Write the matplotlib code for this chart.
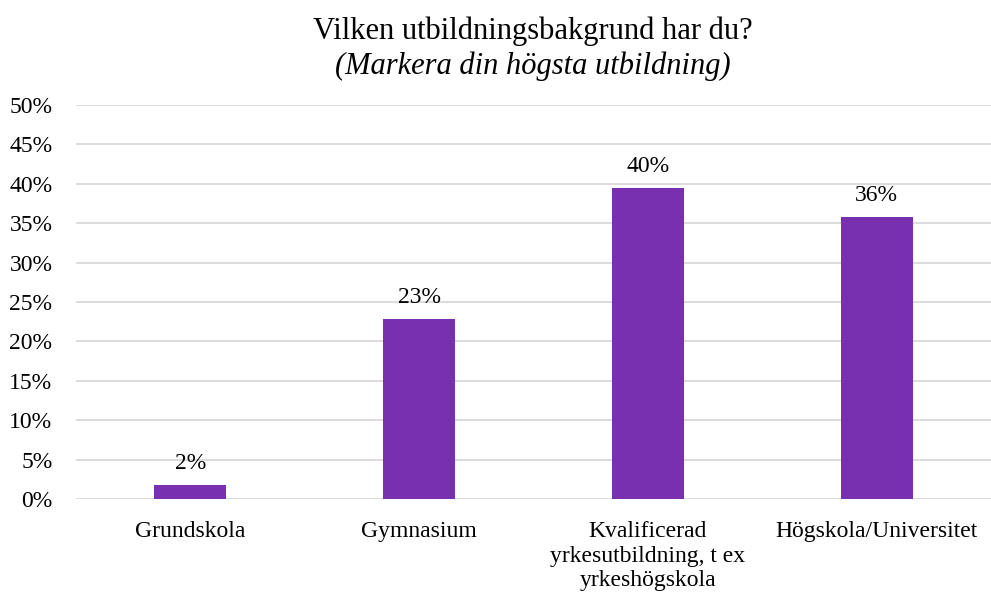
import matplotlib
matplotlib.use("Agg")
import matplotlib.pyplot as plt
from matplotlib.ticker import FuncFormatter

categories = ["Grundskola", "Gymnasium", "Kvalificerad\nyrkesutbildning, t ex\nyrkeshögskola", "Högskola/Universitet"]
values = [1.8, 22.8, 39.5, 35.8]
labels = ["2%", "23%", "40%", "36%"]
yticks = [0, 5, 10, 15, 20, 25, 30, 35, 40, 45, 50]

plt.rcParams['font.family'] = ['Liberation Serif', 'DejaVu Serif']

fig = plt.figure(figsize=(9.91, 5.95), dpi=100)
ax = fig.add_axes([0.0767, 0.1613, 0.9233, 0.6622])

x = list(range(len(categories)))
bars = ax.bar(x, values, width=0.314, color="#7830B0", zorder=3)
for xi, v, lab in zip(x, values, labels):
    ax.annotate(lab, (xi, v), xytext=(0, 8), textcoords="offset points",
                ha="center", va="bottom", fontsize=17, color="#000000")

ax.set_xlim(-0.5, 3.5)
ax.set_ylim(0, 50)
ax.set_yticks(yticks)
ax.yaxis.set_major_formatter(FuncFormatter(lambda v, p: f"{int(v)}%"))
ax.set_xticks(x)
ax.set_xticklabels(categories, fontsize=17, linespacing=1.22)
ax.tick_params(axis='y', labelsize=17, length=0, pad=17)
ax.tick_params(axis='x', length=0, pad=16)
ax.grid(axis='y', color="#d9d9d9", linewidth=1.3, zorder=0)
for s in ax.spines.values():
    s.set_visible(False)

fig.text(0.538, 0.948, "Vilken utbildningsbakgrund har du?", ha="center", va="center", fontsize=22)
fig.text(0.538, 0.889, "(Markera din högsta utbildning)", ha="center", va="center", fontsize=22, style="italic")

fig.savefig("out.png", dpi=100)
